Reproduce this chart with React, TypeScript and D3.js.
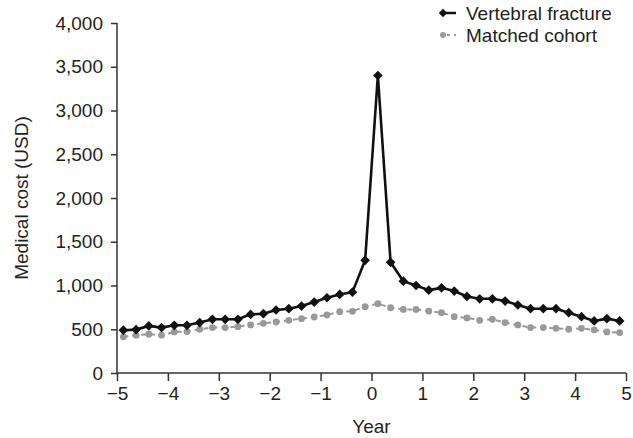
import React, { useRef, useEffect } from 'react';
import * as d3 from 'd3';

// constants
const width = 633;
const height = 438;
const margin = { top: 23, right: 7, bottom: 65, left: 117 };
const innerWidth = width - margin.left - margin.right;
const innerHeight = height - margin.top - margin.bottom;
const font = '"Liberation Sans", Arial, sans-serif';
const textColor = '#231f20';
const fontSize = '19px';

// data: quarterly mean cost, quarter midpoints in years from fracture
const quarters = [
  -4.875, -4.625, -4.375, -4.125, -3.875, -3.625, -3.375, -3.125, -2.875, -2.625,
  -2.375, -2.125, -1.875, -1.625, -1.375, -1.125, -0.875, -0.625, -0.375, -0.125,
  0.125, 0.375, 0.625, 0.875, 1.125, 1.375, 1.625, 1.875, 2.125, 2.375,
  2.625, 2.875, 3.125, 3.375, 3.625, 3.875, 4.125, 4.375, 4.625, 4.875,
];
const vertebralFracture = [
  489, 496, 538, 519, 545, 545, 576, 614, 614, 614,
  670, 678, 720, 735, 765, 811, 860, 898, 924, 1288,
  3400, 1265, 1049, 1000, 947, 973, 936, 875, 848, 848,
  822, 777, 735, 735, 735, 689, 644, 595, 621, 595,
];
const matchedCohort = [
  413, 432, 443, 432, 470, 473, 500, 519, 519, 530,
  549, 568, 583, 602, 621, 640, 663, 701, 705, 758,
  792, 746, 727, 727, 708, 689, 644, 630, 602, 614,
  576, 549, 519, 519, 511, 500, 511, 492, 470, 462,
];
const seriesNames = ['Vertebral fracture', 'Matched cohort'];
const xTicks = [-5, -4, -3, -2, -1, 0, 1, 2, 3, 4, 5];
const yTicks = [0, 500, 1000, 1500, 2000, 2500, 3000, 3500, 4000];

const App = () => {
  const gRef = useRef<SVGGElement>(null);

  // scales
  const xScale = d3.scaleLinear().domain([-5, 5]).range([0, innerWidth]);
  const yScale = d3.scaleLinear().domain([0, 4000]).range([innerHeight, 0]);

  useEffect(() => {
    const g = d3.select(gRef.current);
    g.selectAll('*').remove();

    // axes
    const xAxis = g.append('g')
      .attr('transform', `translate(0, ${innerHeight})`)
      .call(d3.axisBottom(xScale).tickValues(xTicks).tickSize(8).tickPadding(6).tickFormat(d3.format('')));
    const yAxis = g.append('g')
      .call(d3.axisLeft(yScale).tickValues(yTicks).tickSize(6).tickPadding(8).tickFormat(d3.format(',')));
    [xAxis, yAxis].forEach(a => {
      a.select('.domain').attr('stroke', '#333').attr('stroke-width', 1.5);
      a.selectAll('.tick line').attr('stroke', '#333').attr('stroke-width', 1.5);
      a.selectAll('.tick text').attr('fill', textColor).style('font-family', font).style('font-size', fontSize);
    });
    // plain domain lines without end caps
    xAxis.select('.domain').attr('d', `M0,0H${innerWidth}`);
    yAxis.select('.domain').attr('d', `M0,${innerHeight}V0`);

    // axis titles
    g.append('text')
      .attr('x', innerWidth / 2)
      .attr('y', innerHeight + 60)
      .attr('text-anchor', 'middle')
      .attr('fill', textColor)
      .style('font-family', font).style('font-size', fontSize)
      .text('Year');
    g.append('text')
      .attr('transform', `translate(${-margin.left + 28}, ${innerHeight / 2}) rotate(-90)`)
      .attr('text-anchor', 'middle')
      .attr('fill', textColor)
      .style('font-family', font).style('font-size', fontSize)
      .text('Medical cost (USD)');

    const line = d3.line<number>()
      .x((d, i) => xScale(quarters[i]))
      .y(d => yScale(d));

    // matched cohort: grey dashed line with dots
    g.append('path')
      .datum(matchedCohort)
      .attr('fill', 'none')
      .attr('stroke', '#999')
      .attr('stroke-width', 2)
      .attr('stroke-dasharray', '5,4')
      .attr('d', line);
    g.selectAll('.dot')
      .data(matchedCohort)
      .join('circle')
      .classed('dot', true)
      .attr('cx', (d, i) => xScale(quarters[i]))
      .attr('cy', d => yScale(d))
      .attr('r', 3.4)
      .attr('fill', '#999');

    // vertebral fracture: black line with diamonds
    g.append('path')
      .datum(vertebralFracture)
      .attr('fill', 'none')
      .attr('stroke', '#111')
      .attr('stroke-width', 2.6)
      .attr('d', line);
    const diamond = d3.symbol().type(d3.symbolDiamond2).size(60);
    g.selectAll('.diamond')
      .data(vertebralFracture)
      .join('path')
      .classed('diamond', true)
      .attr('transform', (d, i) => `translate(${xScale(quarters[i])}, ${yScale(d)})`)
      .attr('d', diamond)
      .attr('fill', '#111');

    // legend
    const legend = g.append('g').attr('transform', `translate(${440 - margin.left}, ${13 - margin.top})`);
    seriesNames.forEach((name, i) => {
      const row = legend.append('g').attr('transform', `translate(0, ${i * 22})`);
      if (i === 0) {
        row.append('line').attr('x1', 0).attr('x2', 16).attr('stroke', '#111').attr('stroke-width', 2.5);
        row.append('path').attr('transform', 'translate(3,0)').attr('d', d3.symbol().type(d3.symbolDiamond2).size(45)).attr('fill', '#111');
      } else {
        row.append('line').attr('x1', 0).attr('x2', 16).attr('stroke', '#999').attr('stroke-width', 2).attr('stroke-dasharray', '3,4');
        row.append('circle').attr('cx', 3).attr('r', 3).attr('fill', '#999');
      }
      row.append('text')
        .attr('x', 26)
        .attr('dy', '0.35em')
        .attr('fill', textColor)
        .style('font-family', font).style('font-size', fontSize)
        .text(name);
    });
  }, []);

  return (
    <svg width={width} height={height} style={{ position: 'absolute', left: 0, top: 0, background: '#fff' }}>
      <g transform={`translate(${margin.left},${margin.top})`} ref={gRef}></g>
    </svg>
  );
};

export default App;
